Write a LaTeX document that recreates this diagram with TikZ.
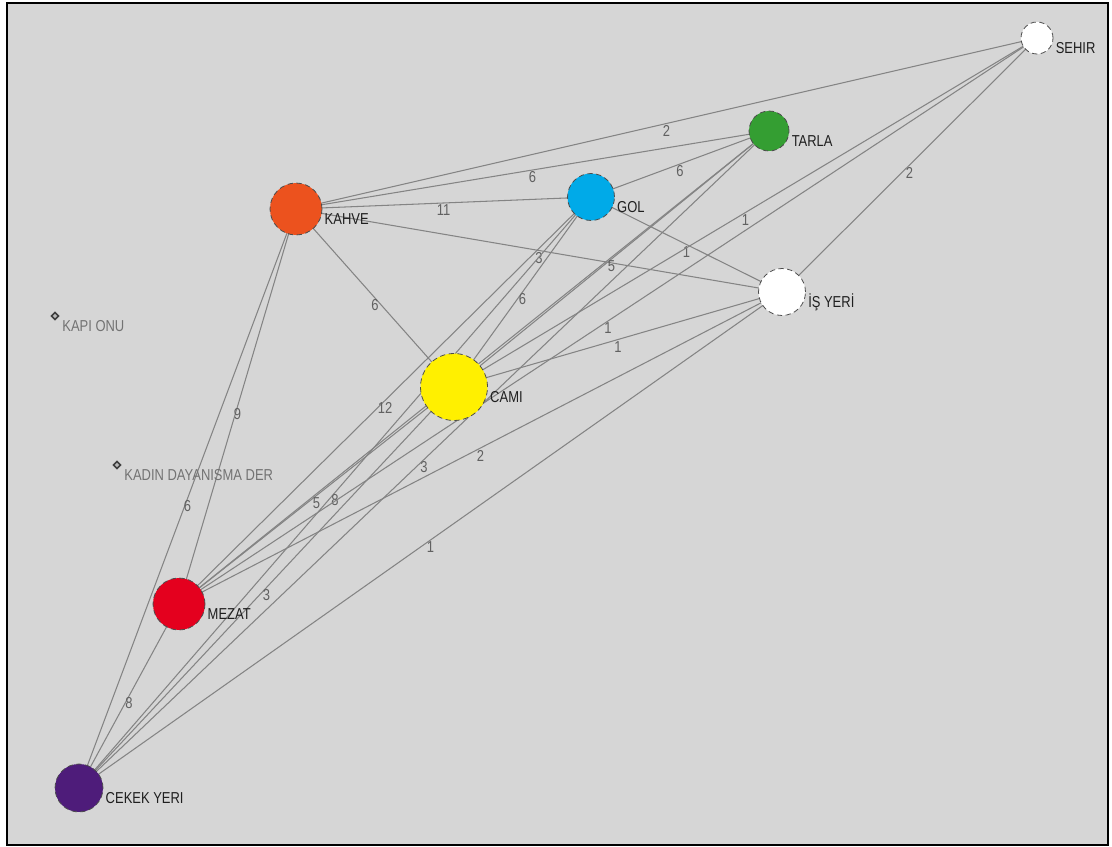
\documentclass[tikz,border=0pt]{standalone}
\usepackage{fontspec}
\newfontfamily\netfont[FakeStretch=0.82]{Liberation Sans}
\usepackage{tikz}
\usetikzlibrary{shapes.geometric, backgrounds}
\usepackage{xcolor}

\definecolor{panelgray}{RGB}{214,214,214}
\definecolor{tiegray}{RGB}{132,132,132}
\definecolor{tarlagreen}{RGB}{52,158,50}
\definecolor{golblue}{RGB}{0,170,232}
\definecolor{kahveorange}{RGB}{236,82,30}
\definecolor{camiyellow}{RGB}{255,240,0}
\definecolor{mezatred}{RGB}{228,0,30}
\definecolor{cekekpurple}{RGB}{78,28,122}

\begin{document}
\begin{tikzpicture}[
    x=0.02cm, y=-0.02cm,
    actor/.style={circle, draw=black!70, densely dashed, line width=0.45pt, inner sep=0pt},
    isolate/.style={diamond, draw=black!75, fill=gray!55, line width=0.9pt, inner sep=0pt, minimum size=0.15cm},
    actorlbl/.style={font=\netfont\fontsize{9}{10}\selectfont, text=black!88, anchor=base west, inner sep=0pt},
    faintlbl/.style={actorlbl, text=black!55},
    tie/.style={draw=tiegray, line width=0.6pt},
    wt/.style={font=\netfont\fontsize{9}{10}\selectfont, text=black!62, inner sep=0pt, yshift=-0.15cm}
]
  \useasboundingbox (0,0) rectangle (1112,847);

  % --- ACTORS ---
  \node[actor, fill=white, minimum size=0.64cm] (sehir) at (1037,38) {};
  \node[actor, fill=tarlagreen, minimum size=0.80cm] (tarla) at (769,131) {};
  \node[actor, fill=golblue, minimum size=0.94cm] (gol) at (591,197) {};
  \node[actor, fill=kahveorange, minimum size=1.04cm] (kahve) at (296,209) {};
  \node[actor, fill=white, minimum size=0.94cm] (isyeri) at (782,292) {};
  \node[actor, fill=camiyellow, minimum size=1.34cm] (cami) at (454,387) {};
  \node[actor, fill=mezatred, minimum size=1.04cm] (mezat) at (179,604) {};
  \node[actor, fill=cekekpurple, minimum size=0.96cm] (cekek) at (79,788) {};

  % isolates
  \node[isolate] (kapionu) at (55,316) {};
  \node[isolate] (kadin) at (117,465) {};

  % --- NAMES ---
  \node[actorlbl] at ([xshift=0.04cm, yshift=-0.31cm]sehir.east) {SEHIR};
  \node[actorlbl] at ([xshift=0.04cm, yshift=-0.31cm]tarla.east) {TARLA};
  \node[actorlbl] at ([xshift=0.04cm, yshift=-0.31cm]gol.east) {GOL};
  \node[actorlbl] at ([xshift=0.04cm, yshift=-0.31cm]kahve.east) {KAHVE};
  \node[actorlbl] at ([xshift=0.04cm, yshift=-0.31cm]isyeri.east) {İŞ YERİ};
  \node[actorlbl] at ([xshift=0.04cm, yshift=-0.31cm]cami.east) {CAMI};
  \node[actorlbl] at ([xshift=0.04cm, yshift=-0.31cm]mezat.east) {MEZAT};
  \node[actorlbl] at ([xshift=0.04cm, yshift=-0.31cm]cekek.east) {CEKEK YERI};
  \node[faintlbl] at ([xshift=0.05cm, yshift=-0.31cm]kapionu.east) {KAPI ONU};
  \node[faintlbl] at ([xshift=0.05cm, yshift=-0.31cm]kadin.east) {KADIN DAYANISMA DER};

  % --- TIES ---
  \begin{scope}[on background layer]
    \draw[black, line width=1.6pt, fill=panelgray] (7,3) rectangle (1108,845);

    % kahve
    \draw[tie] (kahve.center) -- node[wt] {2} (sehir.center);
    \draw[tie] (kahve.center) -- node[wt] {6} (tarla.center);
    \draw[tie] (kahve.center) -- node[wt] {11} (gol.center);
    \draw[tie] (kahve.center) -- node[wt] {3} (isyeri.center);
    \draw[tie] (kahve.center) -- node[wt] {6} (cami.center);
    \draw[tie] (kahve.center) -- node[wt] {9} (mezat.center);
    \draw[tie] (kahve.center) -- node[wt] {6} (cekek.center);

    % gol
    \draw[tie] (gol.center) -- node[wt] {6} (tarla.center);
    \draw[tie] (gol.center) -- node[wt] {6} (cami.center);
    \draw[tie] (gol.center) -- node[wt] {1} (isyeri.center);
    \draw[tie] (gol.center) -- node[wt] {12} (mezat.center);
    \draw[tie] (gol.center) -- node[wt] {8} (cekek.center);

    % cami
    \draw[tie] (cami.center) -- node[wt] {1} (sehir.center);
    \draw[tie] (cami.center) -- node[wt] {5} (tarla.center);
    \draw[tie] (cami.center) -- node[wt] {1} (isyeri.center);
    \draw[tie] (cami.center) -- node[wt] {5} (mezat.center);
    \draw[tie] (cami.center) -- node[wt] {3} (cekek.center);

    % mezat
    \draw[tie] (mezat.center) -- (tarla.center);
    \draw[tie] (mezat.center) -- node[wt] {2} (isyeri.center);
    \draw[tie] (mezat.center) -- node[wt] {1} (sehir.center);
    \draw[tie] (mezat.center) -- node[wt] {8} (cekek.center);

    % cekek yeri, sehir
    \draw[tie] (cekek.center) -- node[wt] {3} (tarla.center);
    \draw[tie] (cekek.center) -- node[wt] {1} (isyeri.center);
    \draw[tie] (sehir.center) -- node[wt] {2} (isyeri.center);
  \end{scope}

\end{tikzpicture}
\end{document}
